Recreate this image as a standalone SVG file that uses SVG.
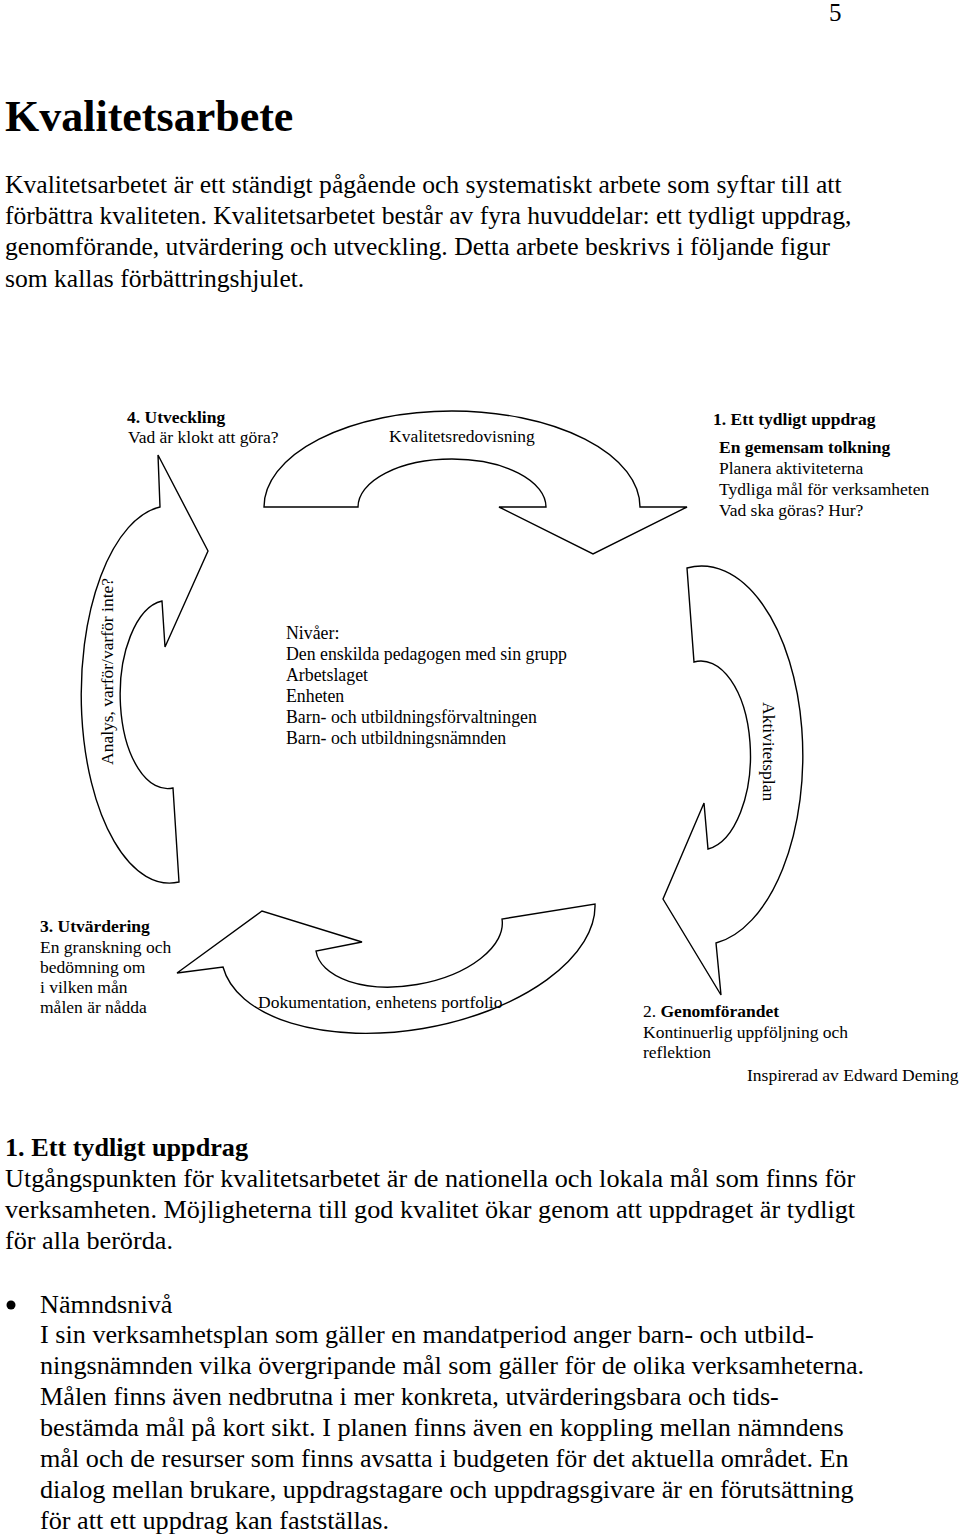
<svg xmlns="http://www.w3.org/2000/svg" width="960" height="1539" viewBox="0 0 960 1539">
<style>
.t{font-family:"Liberation Serif","Times New Roman",serif;fill:#000}
.body{font-size:25.6px}
.body2{font-size:26.2px}
.lbl{font-size:17.5px}
.ctr{font-size:17.8px}
.b{font-weight:bold}
.arrow{fill:#fff;stroke:#000;stroke-width:1.4;stroke-linejoin:miter}
</style>
<rect width="960" height="1539" fill="#fff"/>
<text class="t" x="829" y="21" font-size="25">5</text>
<g id="header">
<text class="t b" x="5" y="131" font-size="44">Kvalitetsarbete</text>
<text class="t body" x="5" y="193">Kvalitetsarbetet är ett ständigt pågående och systematiskt arbete som syftar till att</text>
<text class="t body" x="5" y="224">förbättra kvaliteten. Kvalitetsarbetet består av fyra huvuddelar: ett tydligt uppdrag,</text>
<text class="t body" x="5" y="255">genomförande, utvärdering och utveckling. Detta arbete beskrivs i följande figur</text>
<text class="t body" x="5" y="287">som kallas förbättringshjulet.</text>
</g>
<g id="connectors">
<path id="arrow-top" class="arrow" d="M264,507 A188,96 0 0 1 640,507 L687,507 L593,554 L499,507 L546,507 A94,48 0 0 0 358,507 Z"/>
<path id="arrow-right" class="arrow" d="M687,568 A100,187 0 0 1 716,943 L721,995 L663,899 L704,803 L708,849 A49,93.5 0 0 0 694,662 Z"/>
<path id="arrow-bottom" class="arrow" d="M595,904 A189,100 -10 0 1 223,967 L177,973 L262,911 L362,942 L316,951 A94,50 -10 0 0 502,919 Z"/>
<path id="arrow-left" class="arrow" d="M179,882 A88,188 0 0 1 160,507 L158,455 L208,551 L165,647 L162,601 A47,93.5 0 0 0 173,788 Z"/>
</g>
<g id="label-top"><text class="t lbl" x="389" y="442">Kvalitetsredovisning</text></g>
<g id="label-right"><text class="t lbl" transform="translate(763,702) rotate(90)">Aktivitetsplan</text></g>
<g id="label-bottom"><text class="t lbl" x="258" y="1008">Dokumentation, enhetens portfolio</text></g>
<g id="label-left"><text class="t lbl" transform="translate(113,765) rotate(-90)">Analys, varför/varför inte?</text></g>
<g id="node-4">
<text class="t lbl b" x="127" y="423">4. Utveckling</text>
<text class="t lbl" x="128" y="443">Vad är klokt att göra?</text>
</g>
<g id="node-1">
<text class="t lbl b" x="713" y="425">1. Ett tydligt uppdrag</text>
<text class="t lbl b" x="719" y="453">En gemensam tolkning</text>
<text class="t lbl" x="719" y="474">Planera aktiviteterna</text>
<text class="t lbl" x="719" y="495">Tydliga mål för verksamheten</text>
<text class="t lbl" x="719" y="516">Vad ska göras? Hur?</text>
</g>
<g id="node-center">
<text class="t ctr" x="286" y="639">Nivåer:</text>
<text class="t ctr" x="286" y="660">Den enskilda pedagogen med sin grupp</text>
<text class="t ctr" x="286" y="681">Arbetslaget</text>
<text class="t ctr" x="286" y="702">Enheten</text>
<text class="t ctr" x="286" y="723">Barn- och utbildningsförvaltningen</text>
<text class="t ctr" x="286" y="744">Barn- och utbildningsnämnden</text>
</g>
<g id="node-3">
<text class="t lbl b" x="40" y="932">3. Utvärdering</text>
<text class="t lbl" x="40" y="953">En granskning och</text>
<text class="t lbl" x="40" y="973">bedömning om</text>
<text class="t lbl" x="40" y="993">i vilken mån</text>
<text class="t lbl" x="40" y="1013">målen är nådda</text>
</g>
<g id="node-2">
<text class="t lbl" x="643" y="1017">2. <tspan class="b">Genomförandet</tspan></text>
<text class="t lbl" x="643" y="1038">Kontinuerlig uppföljning och</text>
<text class="t lbl" x="643" y="1058">reflektion</text>
<text class="t lbl" x="747" y="1081">Inspirerad av Edward Deming</text>
</g>
<g id="section">
<text class="t body2 b" x="5" y="1156">1. Ett tydligt uppdrag</text>
<text class="t body2" x="5" y="1187">Utgångspunkten för kvalitetsarbetet är de nationella och lokala mål som finns för</text>
<text class="t body2" x="5" y="1218">verksamheten. Möjligheterna till god kvalitet ökar genom att uppdraget är tydligt</text>
<text class="t body2" x="5" y="1249">för alla berörda.</text>
<circle cx="11" cy="1305" r="4.5" fill="#000"/>
<text class="t body2" x="40" y="1313">Nämndsnivå</text>
<text class="t body2" x="40" y="1343">I sin verksamhetsplan som gäller en mandatperiod anger barn- och utbild-</text>
<text class="t body2" x="40" y="1374">ningsnämnden vilka övergripande mål som gäller för de olika verksamheterna.</text>
<text class="t body2" x="40" y="1405">Målen finns även nedbrutna i mer konkreta, utvärderingsbara och tids-</text>
<text class="t body2" x="40" y="1436">bestämda mål på kort sikt. I planen finns även en koppling mellan nämndens</text>
<text class="t body2" x="40" y="1467">mål och de resurser som finns avsatta i budgeten för det aktuella området. En</text>
<text class="t body2" x="40" y="1498">dialog mellan brukare, uppdragstagare och uppdragsgivare är en förutsättning</text>
<text class="t body2" x="40" y="1529">för att ett uppdrag kan fastställas.</text>
</g>
</svg>
